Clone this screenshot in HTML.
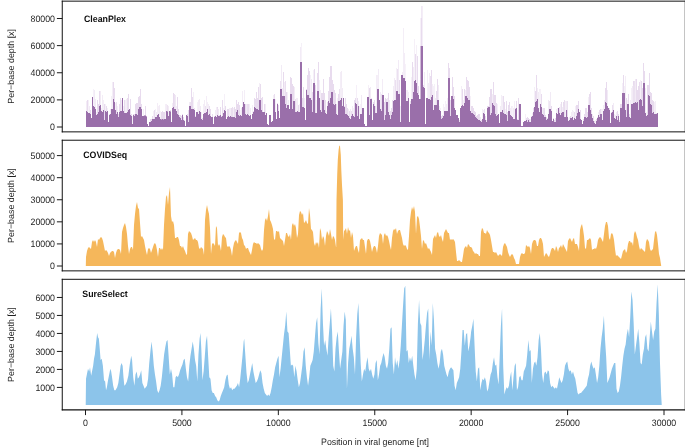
<!DOCTYPE html>
<html><head><meta charset="utf-8"><style>
html,body{margin:0;padding:0;background:#fff;}
svg{display:block;font-family:"Liberation Sans", sans-serif;will-change:transform;text-rendering:geometricPrecision;}
</style></head><body>
<svg width="685" height="447" viewBox="0 0 685 447">
<text x="0" y="0" transform="translate(14.2,66.35) rotate(-90)" text-anchor="middle" font-size="8.9" fill="#1e1e1e">Per−base depth [x]</text>
<line x1="56.9" y1="127.00" x2="62.3" y2="127.00" stroke="#1a1a1a" stroke-width="1"/>
<text transform="translate(55,130.20) scale(0.945,1)" text-anchor="end" font-size="9.3" fill="#1e1e1e">0</text>
<line x1="56.9" y1="99.88" x2="62.3" y2="99.88" stroke="#1a1a1a" stroke-width="1"/>
<text transform="translate(55,103.08) scale(0.945,1)" text-anchor="end" font-size="9.3" fill="#1e1e1e">20000</text>
<line x1="56.9" y1="72.75" x2="62.3" y2="72.75" stroke="#1a1a1a" stroke-width="1"/>
<text transform="translate(55,75.95) scale(0.945,1)" text-anchor="end" font-size="9.3" fill="#1e1e1e">40000</text>
<line x1="56.9" y1="45.62" x2="62.3" y2="45.62" stroke="#1a1a1a" stroke-width="1"/>
<text transform="translate(55,48.83) scale(0.945,1)" text-anchor="end" font-size="9.3" fill="#1e1e1e">60000</text>
<line x1="56.9" y1="18.50" x2="62.3" y2="18.50" stroke="#1a1a1a" stroke-width="1"/>
<text transform="translate(55,21.70) scale(0.945,1)" text-anchor="end" font-size="9.3" fill="#1e1e1e">80000</text>
<text transform="translate(84,21.7) scale(0.945,1)" font-size="9.3" font-weight="bold" fill="#111">CleanPlex</text>
<text x="0" y="0" transform="translate(14.2,205.55) rotate(-90)" text-anchor="middle" font-size="8.9" fill="#1e1e1e">Per−base depth [x]</text>
<line x1="56.9" y1="266.00" x2="62.3" y2="266.00" stroke="#1a1a1a" stroke-width="1"/>
<text transform="translate(55,269.20) scale(0.945,1)" text-anchor="end" font-size="9.3" fill="#1e1e1e">0</text>
<line x1="56.9" y1="243.92" x2="62.3" y2="243.92" stroke="#1a1a1a" stroke-width="1"/>
<text transform="translate(55,247.12) scale(0.945,1)" text-anchor="end" font-size="9.3" fill="#1e1e1e">10000</text>
<line x1="56.9" y1="221.84" x2="62.3" y2="221.84" stroke="#1a1a1a" stroke-width="1"/>
<text transform="translate(55,225.04) scale(0.945,1)" text-anchor="end" font-size="9.3" fill="#1e1e1e">20000</text>
<line x1="56.9" y1="199.76" x2="62.3" y2="199.76" stroke="#1a1a1a" stroke-width="1"/>
<text transform="translate(55,202.96) scale(0.945,1)" text-anchor="end" font-size="9.3" fill="#1e1e1e">30000</text>
<line x1="56.9" y1="177.68" x2="62.3" y2="177.68" stroke="#1a1a1a" stroke-width="1"/>
<text transform="translate(55,180.88) scale(0.945,1)" text-anchor="end" font-size="9.3" fill="#1e1e1e">40000</text>
<line x1="56.9" y1="155.60" x2="62.3" y2="155.60" stroke="#1a1a1a" stroke-width="1"/>
<text transform="translate(55,158.80) scale(0.945,1)" text-anchor="end" font-size="9.3" fill="#1e1e1e">50000</text>
<text transform="translate(83.2,157.9) scale(0.945,1)" font-size="9.3" font-weight="bold" fill="#111">COVIDSeq</text>
<text x="0" y="0" transform="translate(14.2,344.55) rotate(-90)" text-anchor="middle" font-size="8.9" fill="#1e1e1e">Per−base depth [x]</text>
<line x1="56.9" y1="387.41" x2="62.3" y2="387.41" stroke="#1a1a1a" stroke-width="1"/>
<text transform="translate(55,390.61) scale(0.945,1)" text-anchor="end" font-size="9.3" fill="#1e1e1e">1000</text>
<line x1="56.9" y1="369.42" x2="62.3" y2="369.42" stroke="#1a1a1a" stroke-width="1"/>
<text transform="translate(55,372.62) scale(0.945,1)" text-anchor="end" font-size="9.3" fill="#1e1e1e">2000</text>
<line x1="56.9" y1="351.43" x2="62.3" y2="351.43" stroke="#1a1a1a" stroke-width="1"/>
<text transform="translate(55,354.63) scale(0.945,1)" text-anchor="end" font-size="9.3" fill="#1e1e1e">3000</text>
<line x1="56.9" y1="333.44" x2="62.3" y2="333.44" stroke="#1a1a1a" stroke-width="1"/>
<text transform="translate(55,336.64) scale(0.945,1)" text-anchor="end" font-size="9.3" fill="#1e1e1e">4000</text>
<line x1="56.9" y1="315.45" x2="62.3" y2="315.45" stroke="#1a1a1a" stroke-width="1"/>
<text transform="translate(55,318.65) scale(0.945,1)" text-anchor="end" font-size="9.3" fill="#1e1e1e">5000</text>
<line x1="56.9" y1="297.46" x2="62.3" y2="297.46" stroke="#1a1a1a" stroke-width="1"/>
<text transform="translate(55,300.66) scale(0.945,1)" text-anchor="end" font-size="9.3" fill="#1e1e1e">6000</text>
<text transform="translate(82.3,296.9) scale(0.945,1)" font-size="9.3" font-weight="bold" fill="#111">SureSelect</text>
<path d="M86.00,127.00L86.00,101.00L87.00,101.00L87.00,100.00L88.00,100.00L88.00,100.00L89.00,100.00L89.00,106.00L90.00,106.00L90.00,110.00L91.00,110.00L91.00,118.00L92.00,118.00L92.00,97.00L93.00,97.00L93.00,89.00L94.00,89.00L94.00,90.00L95.00,90.00L95.00,99.00L96.00,99.00L96.00,112.00L97.00,112.00L97.00,100.00L98.00,100.00L98.00,104.00L99.00,104.00L99.00,91.00L100.00,91.00L100.00,91.00L101.00,91.00L101.00,108.00L102.00,108.00L102.00,95.00L103.00,95.00L103.00,100.00L104.00,100.00L104.00,104.00L105.00,104.00L105.00,104.00L106.00,104.00L106.00,106.00L107.00,106.00L107.00,108.00L108.00,108.00L108.00,122.00L109.00,122.00L109.00,114.00L110.00,114.00L110.00,109.00L111.00,109.00L111.00,96.00L112.00,96.00L112.00,82.00L113.00,82.00L113.00,82.00L114.00,82.00L114.00,88.00L115.00,88.00L115.00,103.00L116.00,103.00L116.00,102.00L117.00,102.00L117.00,106.00L118.00,106.00L118.00,114.00L119.00,114.00L119.00,104.00L120.00,104.00L120.00,98.00L121.00,98.00L121.00,100.00L122.00,100.00L122.00,98.00L123.00,98.00L123.00,106.00L124.00,106.00L124.00,100.00L125.00,100.00L125.00,100.00L126.00,100.00L126.00,99.00L127.00,99.00L127.00,98.00L128.00,98.00L128.00,94.00L129.00,94.00L129.00,109.00L130.00,109.00L130.00,99.00L131.00,99.00L131.00,114.00L132.00,114.00L132.00,116.00L133.00,116.00L133.00,114.00L134.00,114.00L134.00,114.00L135.00,114.00L135.00,104.00L136.00,104.00L136.00,103.00L137.00,103.00L137.00,103.00L138.00,103.00L138.00,97.00L139.00,97.00L139.00,96.00L140.00,96.00L140.00,89.00L141.00,89.00L141.00,104.00L142.00,104.00L142.00,116.00L143.00,116.00L143.00,109.00L144.00,109.00L144.00,115.60L145.00,115.60L145.00,106.00L146.00,106.00L146.00,116.00L147.00,116.00L147.00,124.00L148.00,124.00L148.00,126.00L149.00,126.00L149.00,122.00L150.00,122.00L150.00,119.00L151.00,119.00L151.00,119.00L152.00,119.00L152.00,116.00L153.00,116.00L153.00,111.00L154.00,111.00L154.00,110.00L155.00,110.00L155.00,109.00L156.00,109.00L156.00,112.00L157.00,112.00L157.00,103.00L158.00,103.00L158.00,106.00L159.00,106.00L159.00,105.00L160.00,105.00L160.00,111.00L161.00,111.00L161.00,112.00L162.00,112.00L162.00,111.00L163.00,111.00L163.00,112.00L164.00,112.00L164.00,112.00L165.00,112.00L165.00,104.00L166.00,104.00L166.00,104.00L167.00,104.00L167.00,105.00L168.00,105.00L168.00,106.00L169.00,106.00L169.00,111.00L170.00,111.00L170.00,110.00L171.00,110.00L171.00,122.00L172.00,122.00L172.00,103.00L173.00,103.00L173.00,93.00L174.00,93.00L174.00,94.00L175.00,94.00L175.00,95.00L176.00,95.00L176.00,106.00L177.00,106.00L177.00,97.00L178.00,97.00L178.00,109.00L179.00,109.00L179.00,115.00L180.00,115.00L180.00,115.00L181.00,115.00L181.00,116.00L182.00,116.00L182.00,114.00L183.00,114.00L183.00,117.00L184.00,117.00L184.00,120.00L185.00,120.00L185.00,126.00L186.00,126.00L186.00,115.00L187.00,115.00L187.00,114.00L188.00,114.00L188.00,110.00L189.00,110.00L189.00,102.00L190.00,102.00L190.00,102.00L191.00,102.00L191.00,88.00L192.00,88.00L192.00,97.00L193.00,97.00L193.00,92.00L194.00,92.00L194.00,108.00L195.00,108.00L195.00,116.00L196.00,116.00L196.00,112.00L197.00,112.00L197.00,102.00L198.00,102.00L198.00,100.00L199.00,100.00L199.00,99.00L200.00,99.00L200.00,106.00L201.00,106.00L201.00,112.00L202.00,112.00L202.00,118.00L203.00,118.00L203.00,104.00L204.00,104.00L204.00,100.00L205.00,100.00L205.00,106.00L206.00,106.00L206.00,96.00L207.00,96.00L207.00,102.00L208.00,102.00L208.00,104.00L209.00,104.00L209.00,106.00L210.00,106.00L210.00,109.00L211.00,109.00L211.00,117.00L212.00,117.00L212.00,114.00L213.00,114.00L213.00,124.00L214.00,124.00L214.00,116.00L215.00,116.00L215.00,110.00L216.00,110.00L216.00,107.00L217.00,107.00L217.00,107.00L218.00,107.00L218.00,109.00L219.00,109.00L219.00,115.00L220.00,115.00L220.00,107.00L221.00,107.00L221.00,116.00L222.00,116.00L222.00,100.00L223.00,100.00L223.00,108.00L224.00,108.00L224.00,94.00L225.00,94.00L225.00,106.00L226.00,106.00L226.00,119.00L227.00,119.00L227.00,109.00L228.00,109.00L228.00,109.00L229.00,109.00L229.00,108.00L230.00,108.00L230.00,108.00L231.00,108.00L231.00,108.00L232.00,108.00L232.00,107.00L233.00,107.00L233.00,108.00L234.00,108.00L234.00,107.00L235.00,107.00L235.00,109.00L236.00,109.00L236.00,100.00L237.00,100.00L237.00,104.00L238.00,104.00L238.00,102.00L239.00,102.00L239.00,105.00L240.00,105.00L240.00,110.00L241.00,110.00L241.00,108.00L242.00,108.00L242.00,91.00L243.00,91.00L243.00,102.00L244.00,102.00L244.00,90.00L245.00,90.00L245.00,104.00L246.00,104.00L246.00,104.00L247.00,104.00L247.00,104.00L248.00,104.00L248.00,104.00L249.00,104.00L249.00,104.00L250.00,104.00L250.00,108.00L251.00,108.00L251.00,119.00L252.00,119.00L252.00,105.00L253.00,105.00L253.00,111.00L254.00,111.00L254.00,98.00L255.00,98.00L255.00,99.00L256.00,99.00L256.00,92.00L257.00,92.00L257.00,98.00L258.00,98.00L258.00,87.00L259.00,87.00L259.00,83.00L260.00,83.00L260.00,84.00L261.00,84.00L261.00,98.00L262.00,98.00L262.00,97.00L263.00,97.00L263.00,112.00L264.00,112.00L264.00,104.00L265.00,104.00L265.00,104.00L266.00,104.00L266.00,113.00L267.00,113.00L267.00,124.00L268.00,124.00L268.00,125.00L269.00,125.00L269.00,115.00L270.00,115.00L270.00,115.00L271.00,115.00L271.00,122.00L272.00,122.00L272.00,121.00L273.00,121.00L273.00,95.00L274.00,95.00L274.00,94.00L275.00,94.00L275.00,99.00L276.00,99.00L276.00,119.00L277.00,119.00L277.00,103.00L278.00,103.00L278.00,105.00L279.00,105.00L279.00,118.00L280.00,118.00L280.00,81.00L281.00,81.00L281.00,65.00L282.00,65.00L282.00,88.00L283.00,88.00L283.00,72.00L284.00,72.00L284.00,82.00L285.00,82.00L285.00,81.00L286.00,81.00L286.00,92.00L287.00,92.00L287.00,92.00L288.00,92.00L288.00,100.00L289.00,100.00L289.00,109.00L290.00,109.00L290.00,77.00L291.00,77.00L291.00,78.00L292.00,78.00L292.00,84.00L293.00,84.00L293.00,86.00L294.00,86.00L294.00,87.00L295.00,87.00L295.00,99.00L296.00,99.00L296.00,98.00L297.00,98.00L297.00,98.00L298.00,98.00L298.00,105.00L299.00,105.00L299.00,104.00L300.00,104.00L300.00,47.00L301.00,47.00L301.00,43.00L302.00,43.00L302.00,98.00L303.00,98.00L303.00,87.00L304.00,87.00L304.00,98.00L305.00,98.00L305.00,120.00L306.00,120.00L306.00,89.00L307.00,89.00L307.00,75.00L308.00,75.00L308.00,68.00L309.00,68.00L309.00,71.00L310.00,71.00L310.00,75.00L311.00,75.00L311.00,79.00L312.00,79.00L312.00,92.00L313.00,92.00L313.00,70.00L314.00,70.00L314.00,69.00L315.00,69.00L315.00,85.00L316.00,85.00L316.00,100.00L317.00,100.00L317.00,73.00L318.00,73.00L318.00,62.00L319.00,62.00L319.00,80.00L320.00,80.00L320.00,90.00L321.00,90.00L321.00,93.00L322.00,93.00L322.00,93.00L323.00,93.00L323.00,79.00L324.00,79.00L324.00,93.00L325.00,93.00L325.00,100.00L326.00,100.00L326.00,111.00L327.00,111.00L327.00,102.00L328.00,102.00L328.00,91.00L329.00,91.00L329.00,77.00L330.00,77.00L330.00,66.00L331.00,66.00L331.00,66.00L332.00,66.00L332.00,80.00L333.00,80.00L333.00,84.00L334.00,84.00L334.00,90.00L335.00,90.00L335.00,93.00L336.00,93.00L336.00,104.00L337.00,104.00L337.00,98.00L338.00,98.00L338.00,94.00L339.00,94.00L339.00,89.00L340.00,89.00L340.00,72.00L341.00,72.00L341.00,71.00L342.00,71.00L342.00,88.00L343.00,88.00L343.00,98.00L344.00,98.00L344.00,106.00L345.00,106.00L345.00,98.00L346.00,98.00L346.00,104.00L347.00,104.00L347.00,108.00L348.00,108.00L348.00,109.00L349.00,109.00L349.00,111.00L350.00,111.00L350.00,109.00L351.00,109.00L351.00,111.00L352.00,111.00L352.00,106.00L353.00,106.00L353.00,108.00L354.00,108.00L354.00,100.00L355.00,100.00L355.00,98.00L356.00,98.00L356.00,85.00L357.00,85.00L357.00,98.00L358.00,98.00L358.00,101.00L359.00,101.00L359.00,106.00L360.00,106.00L360.00,104.00L361.00,104.00L361.00,95.00L362.00,95.00L362.00,108.00L363.00,108.00L363.00,108.00L364.00,108.00L364.00,124.00L365.00,124.00L365.00,126.00L366.00,126.00L366.00,126.00L367.00,126.00L367.00,97.00L368.00,97.00L368.00,85.00L369.00,85.00L369.00,88.00L370.00,88.00L370.00,87.00L371.00,87.00L371.00,98.00L372.00,98.00L372.00,120.00L373.00,120.00L373.00,102.00L374.00,102.00L374.00,100.00L375.00,100.00L375.00,106.00L376.00,106.00L376.00,75.00L377.00,75.00L377.00,75.00L378.00,75.00L378.00,69.00L379.00,69.00L379.00,100.00L380.00,100.00L380.00,92.00L381.00,92.00L381.00,94.00L382.00,94.00L382.00,79.00L383.00,79.00L383.00,95.00L384.00,95.00L384.00,102.00L385.00,102.00L385.00,98.00L386.00,98.00L386.00,99.00L387.00,99.00L387.00,98.00L388.00,98.00L388.00,93.00L389.00,93.00L389.00,100.00L390.00,100.00L390.00,111.00L391.00,111.00L391.00,108.00L392.00,108.00L392.00,100.00L393.00,100.00L393.00,86.00L394.00,86.00L394.00,78.00L395.00,78.00L395.00,80.00L396.00,80.00L396.00,68.00L397.00,68.00L397.00,69.00L398.00,69.00L398.00,60.00L399.00,60.00L399.00,80.00L400.00,80.00L400.00,106.00L401.00,106.00L401.00,75.00L402.00,75.00L402.00,72.00L403.00,72.00L403.00,28.00L404.00,28.00L404.00,53.00L405.00,53.00L405.00,64.00L406.00,64.00L406.00,90.00L407.00,90.00L407.00,90.00L408.00,90.00L408.00,92.00L409.00,92.00L409.00,122.00L410.00,122.00L410.00,101.00L411.00,101.00L411.00,77.00L412.00,77.00L412.00,62.00L413.00,62.00L413.00,67.00L414.00,67.00L414.00,39.00L415.00,39.00L415.00,54.00L416.00,54.00L416.00,45.00L417.00,45.00L417.00,56.00L418.00,56.00L418.00,86.00L419.00,86.00L419.00,99.00L420.00,99.00L420.00,80.00L420.60,80.00L420.60,18.00L421.40,18.00L421.40,6.00L422.20,6.00L422.20,6.00L423.00,6.00L423.00,85.00L424.00,85.00L424.00,72.00L425.00,72.00L425.00,124.00L426.00,124.00L426.00,98.00L427.00,98.00L427.00,70.00L428.00,70.00L428.00,83.00L429.00,83.00L429.00,73.00L430.00,73.00L430.00,76.00L431.00,76.00L431.00,70.00L432.00,70.00L432.00,84.00L433.00,84.00L433.00,86.00L434.00,86.00L434.00,84.00L435.00,84.00L435.00,98.00L436.00,98.00L436.00,91.00L437.00,91.00L437.00,79.00L438.00,79.00L438.00,85.00L439.00,85.00L439.00,106.00L440.00,106.00L440.00,108.00L441.00,108.00L441.00,116.00L442.00,116.00L442.00,115.00L443.00,115.00L443.00,104.00L444.00,104.00L444.00,107.00L445.00,107.00L445.00,101.00L446.00,101.00L446.00,104.00L447.00,104.00L447.00,98.00L448.00,98.00L448.00,63.00L449.00,63.00L449.00,68.00L450.00,68.00L450.00,100.00L451.00,100.00L451.00,96.00L452.00,96.00L452.00,77.00L453.00,77.00L453.00,87.00L454.00,87.00L454.00,96.00L455.00,96.00L455.00,110.00L456.00,110.00L456.00,115.00L457.00,115.00L457.00,115.00L458.00,115.00L458.00,118.00L459.00,118.00L459.00,120.00L460.00,120.00L460.00,108.00L461.00,108.00L461.00,86.00L462.00,86.00L462.00,89.00L463.00,89.00L463.00,100.00L464.00,100.00L464.00,89.00L465.00,89.00L465.00,90.00L466.00,90.00L466.00,77.00L467.00,77.00L467.00,80.00L468.00,80.00L468.00,81.00L469.00,81.00L469.00,87.00L470.00,87.00L470.00,96.00L471.00,96.00L471.00,106.00L472.00,106.00L472.00,106.00L473.00,106.00L473.00,108.00L474.00,108.00L474.00,111.00L475.00,111.00L475.00,112.00L476.00,112.00L476.00,116.00L477.00,116.00L477.00,115.00L478.00,115.00L478.00,114.00L479.00,114.00L479.00,114.00L480.00,114.00L480.00,117.00L481.00,117.00L481.00,120.00L482.00,120.00L482.00,109.00L483.00,109.00L483.00,110.00L484.00,110.00L484.00,109.00L485.00,109.00L485.00,116.00L486.00,116.00L486.00,120.00L487.00,120.00L487.00,106.00L488.00,106.00L488.00,106.00L489.00,106.00L489.00,97.00L490.00,97.00L490.00,89.00L491.00,89.00L491.00,89.00L492.00,89.00L492.00,94.00L493.00,94.00L493.00,82.00L494.00,82.00L494.00,95.00L495.00,95.00L495.00,95.00L496.00,95.00L496.00,103.00L497.00,103.00L497.00,104.00L498.00,104.00L498.00,114.00L499.00,114.00L499.00,123.00L500.00,123.00L500.00,106.00L501.00,106.00L501.00,95.00L502.00,95.00L502.00,96.00L503.00,96.00L503.00,96.00L504.00,96.00L504.00,102.00L505.00,102.00L505.00,109.00L506.00,109.00L506.00,101.00L507.00,101.00L507.00,112.00L508.00,112.00L508.00,105.00L509.00,105.00L509.00,102.00L510.00,102.00L510.00,108.00L511.00,108.00L511.00,106.00L512.00,106.00L512.00,106.00L513.00,106.00L513.00,108.00L514.00,108.00L514.00,101.00L515.00,101.00L515.00,108.00L516.00,108.00L516.00,101.00L517.00,101.00L517.00,119.00L518.00,119.00L518.00,98.00L519.00,98.00L519.00,104.00L520.00,104.00L520.00,104.00L521.00,104.00L521.00,126.00L522.00,126.00L522.00,126.00L523.00,126.00L523.00,122.00L524.00,122.00L524.00,121.00L525.00,121.00L525.00,114.00L526.00,114.00L526.00,118.00L527.00,118.00L527.00,117.00L528.00,117.00L528.00,118.00L529.00,118.00L529.00,119.00L530.00,119.00L530.00,119.00L531.00,119.00L531.00,116.00L532.00,116.00L532.00,113.00L533.00,113.00L533.00,108.00L534.00,108.00L534.00,87.00L535.00,87.00L535.00,91.00L536.00,91.00L536.00,75.00L537.00,75.00L537.00,88.00L538.00,88.00L538.00,92.00L539.00,92.00L539.00,89.00L540.00,89.00L540.00,89.00L541.00,89.00L541.00,94.00L542.00,94.00L542.00,108.00L543.00,108.00L543.00,108.00L544.00,108.00L544.00,108.00L545.00,108.00L545.00,115.00L546.00,115.00L546.00,117.00L547.00,117.00L547.00,118.00L548.00,118.00L548.00,100.00L549.00,100.00L549.00,101.00L550.00,101.00L550.00,92.00L551.00,92.00L551.00,106.00L552.00,106.00L552.00,121.00L553.00,121.00L553.00,118.00L554.00,118.00L554.00,120.00L555.00,120.00L555.00,118.00L556.00,118.00L556.00,109.00L557.00,109.00L557.00,108.00L558.00,108.00L558.00,108.00L559.00,108.00L559.00,107.00L560.00,107.00L560.00,104.00L561.00,104.00L561.00,102.00L562.00,102.00L562.00,107.00L563.00,107.00L563.00,102.00L564.00,102.00L564.00,100.00L565.00,100.00L565.00,101.00L566.00,101.00L566.00,101.00L567.00,101.00L567.00,101.00L568.00,101.00L568.00,118.00L569.00,118.00L569.00,117.00L570.00,117.00L570.00,116.00L571.00,116.00L571.00,112.00L572.00,112.00L572.00,110.00L573.00,110.00L573.00,111.00L574.00,111.00L574.00,112.00L575.00,112.00L575.00,106.00L576.00,106.00L576.00,105.00L577.00,105.00L577.00,105.00L578.00,105.00L578.00,101.00L579.00,101.00L579.00,112.00L580.00,112.00L580.00,110.00L581.00,110.00L581.00,120.00L582.00,120.00L582.00,124.00L583.00,124.00L583.00,119.00L584.00,119.00L584.00,114.00L585.00,114.00L585.00,108.00L586.00,108.00L586.00,108.00L587.00,108.00L587.00,112.00L588.00,112.00L588.00,97.00L589.00,97.00L589.00,94.00L590.00,94.00L590.00,92.00L591.00,92.00L591.00,108.00L592.00,108.00L592.00,114.00L593.00,114.00L593.00,116.00L594.00,116.00L594.00,121.00L595.00,121.00L595.00,120.00L596.00,120.00L596.00,119.00L597.00,119.00L597.00,117.00L598.00,117.00L598.00,112.00L599.00,112.00L599.00,110.00L600.00,110.00L600.00,109.00L601.00,109.00L601.00,109.00L602.00,109.00L602.00,109.00L603.00,109.00L603.00,105.00L604.00,105.00L604.00,100.00L605.00,100.00L605.00,88.00L606.00,88.00L606.00,82.00L607.00,82.00L607.00,90.00L608.00,90.00L608.00,108.00L609.00,108.00L609.00,108.00L610.00,108.00L610.00,123.00L611.00,123.00L611.00,112.00L612.00,112.00L612.00,105.00L613.00,105.00L613.00,103.00L614.00,103.00L614.00,114.00L615.00,114.00L615.00,115.00L616.00,115.00L616.00,112.00L617.00,112.00L617.00,111.00L618.00,111.00L618.00,114.00L619.00,114.00L619.00,120.00L620.00,120.00L620.00,104.00L621.00,104.00L621.00,104.00L622.00,104.00L622.00,83.00L623.00,83.00L623.00,75.00L624.00,75.00L624.00,86.00L625.00,86.00L625.00,76.00L626.00,76.00L626.00,98.00L627.00,98.00L627.00,100.00L628.00,100.00L628.00,94.00L629.00,94.00L629.00,114.00L630.00,114.00L630.00,100.00L631.00,100.00L631.00,88.00L632.00,88.00L632.00,86.00L633.00,86.00L633.00,81.00L634.00,81.00L634.00,81.00L635.00,81.00L635.00,79.00L636.00,79.00L636.00,79.00L637.00,79.00L637.00,90.00L638.00,90.00L638.00,86.00L639.00,86.00L639.00,82.00L640.00,82.00L640.00,80.00L641.00,80.00L641.00,81.00L642.00,81.00L642.00,88.00L643.00,88.00L643.00,63.00L644.00,63.00L644.00,71.00L645.00,71.00L645.00,88.00L646.00,88.00L646.00,112.00L647.00,112.00L647.00,85.00L648.00,85.00L648.00,85.00L649.00,85.00L649.00,73.00L650.00,73.00L650.00,92.00L651.00,92.00L651.00,93.00L652.00,93.00L652.00,100.00L653.00,100.00L653.00,101.00L654.00,101.00L654.00,102.00L655.00,102.00L655.00,101.00L656.00,101.00L656.00,113.00L657.00,113.00L657.00,113.00L657.80,113.00L657.80,113.00L658.00,113.00L658.00,127.00Z" fill="#e8dbee"/>
<path d="M86.29,100.00V111.00M88.52,99.00V113.00M89.23,105.00V113.00M93.46,88.00V106.00M94.25,89.00V107.00M95.70,98.00V109.00M96.33,111.00V115.00M100.79,90.00V105.00M101.72,107.00V111.00M102.29,94.00V112.00M103.39,99.00V110.00M105.55,103.00V111.00M107.53,107.00V111.00M110.24,108.00V114.00M111.61,95.00V109.00M112.39,81.00V109.00M115.68,102.00V110.00M117.54,105.00V112.00M121.79,99.00V111.00M123.45,105.00V111.00M125.49,99.00V113.00M126.60,98.00V113.00M132.62,115.00V124.00M143.62,108.00V116.00M153.43,110.00V119.00M155.48,108.00V117.00M156.27,111.00V117.00M157.66,102.00V115.00M158.35,105.00V114.00M159.72,104.00V117.00M160.47,110.00V119.00M165.45,103.00V119.00M166.73,103.00V111.00M168.31,105.00V116.00M172.34,102.00V108.00M175.20,94.00V109.00M176.42,105.00V111.00M189.74,101.00V106.00M193.44,91.00V109.00M197.58,101.00V112.00M198.24,99.00V114.00M199.30,98.00V111.00M200.23,105.00V112.00M201.29,111.00V119.00M203.42,103.00V114.00M204.72,99.00V113.00M206.35,95.00V112.00M207.42,101.00V109.00M208.71,103.00V115.00M215.26,109.00V116.00M216.36,106.00V117.00M218.21,108.00V116.00M223.53,107.00V113.00M224.52,93.00V110.00M229.42,107.00V117.00M230.66,107.00V116.00M233.33,107.00V117.00M240.51,109.00V115.00M241.22,107.00V116.00M242.37,90.00V107.00M244.62,89.00V104.00M246.76,103.00V115.00M249.33,103.00V116.00M250.32,107.00V115.00M252.57,104.00V114.00M259.60,82.00V100.00M265.67,103.00V115.00M273.68,94.00V99.00M275.44,98.00V112.00M281.28,64.00V89.00M282.74,87.00V96.00M284.70,81.00V96.00M287.53,91.00V105.00M288.21,99.00V105.00M294.72,86.00V101.00M296.35,97.00V112.00M297.34,97.00V111.00M299.45,103.00V112.00M300.75,46.00V62.00M301.47,42.00V62.00M304.75,97.00V108.00M310.46,74.00V98.00M311.20,78.00V100.00M313.48,69.00V83.00M316.51,99.00V113.00M319.54,79.00V98.00M320.37,89.00V110.00M326.57,110.00V114.00M337.54,97.00V115.00M340.27,71.00V100.00M341.24,70.00V98.00M342.24,87.00V106.00M348.63,108.00V116.00M350.73,108.00V119.00M352.77,105.00V114.00M353.49,107.00V116.00M356.46,84.00V104.00M358.32,100.00V106.00M359.63,105.00V119.00M360.53,103.00V114.00M361.21,94.00V114.00M368.57,84.00V97.00M370.79,86.00V99.00M376.36,74.00V113.00M377.67,74.00V89.00M378.28,68.00V89.00M380.75,91.00V109.00M382.29,78.00V95.00M387.23,97.00V102.00M389.24,99.00V115.00M393.71,85.00V101.00M394.72,77.00V100.00M396.53,67.00V91.00M398.28,59.00V94.00M400.27,105.00V122.00M402.23,71.00V75.00M403.39,27.00V78.00M404.66,52.00V78.00M405.50,63.00V81.00M406.41,89.00V101.00M407.35,89.00V101.00M408.64,91.00V98.00M411.48,76.00V99.00M413.69,66.00V92.00M414.50,38.00V81.00M416.50,44.00V83.00M420.70,79.00V99.00M422.61,5.00V46.00M424.28,71.00V88.00M427.64,69.00V98.00M428.30,82.00V99.00M429.70,72.00V99.00M432.35,83.00V95.00M433.48,85.00V110.00M434.47,83.00V105.00M435.78,97.00V105.00M438.78,84.00V100.00M439.41,105.00V110.00M440.43,107.00V111.00M443.50,103.00V116.00M444.36,106.00V111.00M445.44,100.00V111.00M446.21,103.00V111.00M447.34,97.00V111.00M461.40,85.00V106.00M463.63,99.00V106.00M465.70,89.00V96.00M470.51,95.00V111.00M480.22,116.00V121.00M482.42,108.00V119.00M483.70,109.00V113.00M492.68,93.00V103.00M497.64,103.00V115.00M500.24,105.00V112.00M501.64,94.00V112.00M502.64,95.00V110.00M505.49,108.00V114.00M510.29,107.00V115.00M511.65,105.00V116.00M512.54,105.00V117.00M513.24,107.00V119.00M514.60,100.00V119.00M525.51,113.00V121.00M530.74,118.00V122.00M532.79,112.00V116.00M534.48,86.00V107.00M537.36,87.00V99.00M538.77,91.00V108.00M539.55,88.00V112.00M540.51,88.00V104.00M542.69,107.00V114.00M548.74,99.00V114.00M550.20,91.00V109.00M556.28,108.00V113.00M557.39,107.00V114.00M560.65,103.00V115.00M562.76,106.00V112.00M565.42,100.00V117.00M566.80,100.00V110.00M568.46,117.00V121.00M569.23,116.00V120.00M571.70,111.00V118.00M572.76,109.00V117.00M573.36,110.00V120.00M575.42,105.00V119.00M588.64,96.00V105.00M592.23,113.00V118.00M595.48,119.00V124.00M598.38,111.00V115.00M601.59,108.00V114.00M602.53,108.00V120.00M603.30,104.00V111.00M604.32,99.00V109.00M607.74,89.00V106.00M613.28,102.00V110.00M614.25,113.00V118.00M615.25,114.00V119.00M616.36,111.00V116.00M622.45,82.00V93.00M624.40,85.00V93.00M625.37,75.00V110.00M627.50,99.00V104.00M630.36,99.00V118.00M631.44,87.00V104.00M632.77,85.00V104.00M635.22,78.00V102.00M640.43,79.00V99.00M645.27,87.00V113.00M646.51,111.00V116.00M654.67,101.00V114.00M655.75,100.00V114.00" stroke="#fff" stroke-width="0.6" fill="none"/>
<path d="M86.00,127.00L86.00,111.00L87.00,111.00L87.00,112.00L88.00,112.00L88.00,113.00L89.00,113.00L89.00,113.00L90.00,113.00L90.00,114.00L91.00,114.00L91.00,118.00L92.00,118.00L92.00,97.00L93.00,97.00L93.00,106.00L94.00,106.00L94.00,107.00L95.00,107.00L95.00,109.00L96.00,109.00L96.00,115.00L97.00,115.00L97.00,114.00L98.00,114.00L98.00,112.00L99.00,112.00L99.00,106.00L100.00,106.00L100.00,105.00L101.00,105.00L101.00,111.00L102.00,111.00L102.00,112.00L103.00,112.00L103.00,110.00L104.00,110.00L104.00,120.00L105.00,120.00L105.00,111.00L106.00,111.00L106.00,112.00L107.00,112.00L107.00,111.00L108.00,111.00L108.00,122.00L109.00,122.00L109.00,115.00L110.00,115.00L110.00,114.00L111.00,114.00L111.00,109.00L112.00,109.00L112.00,109.00L113.00,109.00L113.00,99.00L114.00,99.00L114.00,102.00L115.00,102.00L115.00,110.00L116.00,110.00L116.00,114.00L117.00,114.00L117.00,112.00L118.00,112.00L118.00,117.00L119.00,117.00L119.00,112.00L120.00,112.00L120.00,111.00L121.00,111.00L121.00,111.00L122.00,111.00L122.00,98.00L123.00,98.00L123.00,111.00L124.00,111.00L124.00,113.00L125.00,113.00L125.00,113.00L126.00,113.00L126.00,113.00L127.00,113.00L127.00,112.00L128.00,112.00L128.00,110.00L129.00,110.00L129.00,109.00L130.00,109.00L130.00,115.00L131.00,115.00L131.00,116.00L132.00,116.00L132.00,124.00L133.00,124.00L133.00,115.00L134.00,115.00L134.00,116.00L135.00,116.00L135.00,114.00L136.00,114.00L136.00,114.00L137.00,114.00L137.00,115.00L138.00,115.00L138.00,109.00L139.00,109.00L139.00,107.00L140.00,107.00L140.00,107.00L141.00,107.00L141.00,109.00L142.00,109.00L142.00,116.00L143.00,116.00L143.00,116.00L144.00,116.00L144.00,115.60L145.00,115.60L145.00,115.60L146.00,115.60L146.00,116.40L147.00,116.40L147.00,124.00L148.00,124.00L148.00,126.00L149.00,126.00L149.00,122.00L150.00,122.00L150.00,122.00L151.00,122.00L151.00,121.00L152.00,121.00L152.00,119.00L153.00,119.00L153.00,119.00L154.00,119.00L154.00,119.00L155.00,119.00L155.00,117.00L156.00,117.00L156.00,117.00L157.00,117.00L157.00,115.00L158.00,115.00L158.00,114.00L159.00,114.00L159.00,117.00L160.00,117.00L160.00,119.00L161.00,119.00L161.00,119.60L162.00,119.60L162.00,119.00L163.00,119.00L163.00,119.60L164.00,119.60L164.00,119.00L165.00,119.00L165.00,119.00L166.00,119.00L166.00,111.00L167.00,111.00L167.00,111.40L168.00,111.40L168.00,116.00L169.00,116.00L169.00,111.00L170.00,111.00L170.00,111.40L171.00,111.40L171.00,122.00L172.00,122.00L172.00,108.00L173.00,108.00L173.00,107.00L174.00,107.00L174.00,109.00L175.00,109.00L175.00,109.00L176.00,109.00L176.00,111.00L177.00,111.00L177.00,114.00L178.00,114.00L178.00,115.00L179.00,115.00L179.00,117.00L180.00,117.00L180.00,118.00L181.00,118.00L181.00,120.00L182.00,120.00L182.00,115.00L183.00,115.00L183.00,120.00L184.00,120.00L184.00,121.00L185.00,121.00L185.00,126.00L186.00,126.00L186.00,115.00L187.00,115.00L187.00,116.00L188.00,116.00L188.00,122.00L189.00,122.00L189.00,106.00L190.00,106.00L190.00,106.00L191.00,106.00L191.00,109.00L192.00,109.00L192.00,109.00L193.00,109.00L193.00,109.00L194.00,109.00L194.00,110.00L195.00,110.00L195.00,117.00L196.00,117.00L196.00,112.00L197.00,112.00L197.00,112.00L198.00,112.00L198.00,114.00L199.00,114.00L199.00,111.00L200.00,111.00L200.00,112.00L201.00,112.00L201.00,119.00L202.00,119.00L202.00,120.00L203.00,120.00L203.00,114.00L204.00,114.00L204.00,113.00L205.00,113.00L205.00,113.00L206.00,113.00L206.00,112.00L207.00,112.00L207.00,109.00L208.00,109.00L208.00,115.00L209.00,115.00L209.00,114.00L210.00,114.00L210.00,116.00L211.00,116.00L211.00,117.00L212.00,117.00L212.00,117.00L213.00,117.00L213.00,124.00L214.00,124.00L214.00,117.00L215.00,117.00L215.00,116.00L216.00,116.00L216.00,117.00L217.00,117.00L217.00,115.00L218.00,115.00L218.00,116.00L219.00,116.00L219.00,116.00L220.00,116.00L220.00,115.00L221.00,115.00L221.00,117.00L222.00,117.00L222.00,116.00L223.00,116.00L223.00,113.00L224.00,113.00L224.00,110.00L225.00,110.00L225.00,111.00L226.00,111.00L226.00,119.00L227.00,119.00L227.00,117.00L228.00,117.00L228.00,116.00L229.00,116.00L229.00,117.00L230.00,117.00L230.00,116.00L231.00,116.00L231.00,117.00L232.00,117.00L232.00,117.00L233.00,117.00L233.00,117.00L234.00,117.00L234.00,117.00L235.00,117.00L235.00,118.00L236.00,118.00L236.00,112.00L237.00,112.00L237.00,110.00L238.00,110.00L238.00,115.00L239.00,115.00L239.00,116.00L240.00,116.00L240.00,115.00L241.00,115.00L241.00,116.00L242.00,116.00L242.00,107.00L243.00,107.00L243.00,102.00L244.00,102.00L244.00,104.00L245.00,104.00L245.00,114.00L246.00,114.00L246.00,115.00L247.00,115.00L247.00,114.00L248.00,114.00L248.00,115.00L249.00,115.00L249.00,116.00L250.00,116.00L250.00,115.00L251.00,115.00L251.00,119.00L252.00,119.00L252.00,114.00L253.00,114.00L253.00,112.00L254.00,112.00L254.00,107.00L255.00,107.00L255.00,108.00L256.00,108.00L256.00,109.00L257.00,109.00L257.00,109.00L258.00,109.00L258.00,110.00L259.00,110.00L259.00,100.00L260.00,100.00L260.00,100.00L261.00,100.00L261.00,110.00L262.00,110.00L262.00,112.00L263.00,112.00L263.00,112.00L264.00,112.00L264.00,112.00L265.00,112.00L265.00,115.00L266.00,115.00L266.00,113.00L267.00,113.00L267.00,124.00L268.00,124.00L268.00,125.00L269.00,125.00L269.00,115.00L270.00,115.00L270.00,115.00L271.00,115.00L271.00,122.00L272.00,122.00L272.00,121.00L273.00,121.00L273.00,99.00L274.00,99.00L274.00,99.00L275.00,99.00L275.00,112.00L276.00,112.00L276.00,119.00L277.00,119.00L277.00,104.00L278.00,104.00L278.00,111.00L279.00,111.00L279.00,118.00L280.00,118.00L280.00,89.00L281.00,89.00L281.00,89.00L282.00,89.00L282.00,96.00L283.00,96.00L283.00,96.00L284.00,96.00L284.00,96.00L285.00,96.00L285.00,104.00L286.00,104.00L286.00,108.00L287.00,108.00L287.00,105.00L288.00,105.00L288.00,105.00L289.00,105.00L289.00,109.00L290.00,109.00L290.00,94.00L291.00,94.00L291.00,94.00L292.00,94.00L292.00,109.00L293.00,109.00L293.00,101.00L294.00,101.00L294.00,101.00L295.00,101.00L295.00,112.00L296.00,112.00L296.00,112.00L297.00,112.00L297.00,111.00L298.00,111.00L298.00,112.00L299.00,112.00L299.00,112.00L300.00,112.00L300.00,62.00L301.00,62.00L301.00,62.00L302.00,62.00L302.00,107.00L303.00,107.00L303.00,107.00L304.00,107.00L304.00,108.00L305.00,108.00L305.00,120.00L306.00,120.00L306.00,90.00L307.00,90.00L307.00,95.00L308.00,95.00L308.00,95.00L309.00,95.00L309.00,98.00L310.00,98.00L310.00,98.00L311.00,98.00L311.00,100.00L312.00,100.00L312.00,112.00L313.00,112.00L313.00,83.00L314.00,83.00L314.00,83.00L315.00,83.00L315.00,113.00L316.00,113.00L316.00,113.00L317.00,113.00L317.00,91.00L318.00,91.00L318.00,91.00L319.00,91.00L319.00,98.00L320.00,98.00L320.00,110.00L321.00,110.00L321.00,112.00L322.00,112.00L322.00,100.00L323.00,100.00L323.00,100.00L324.00,100.00L324.00,110.00L325.00,110.00L325.00,113.00L326.00,113.00L326.00,114.00L327.00,114.00L327.00,106.00L328.00,106.00L328.00,101.00L329.00,101.00L329.00,103.00L330.00,103.00L330.00,98.00L331.00,98.00L331.00,92.00L332.00,92.00L332.00,92.00L333.00,92.00L333.00,104.00L334.00,104.00L334.00,105.00L335.00,105.00L335.00,104.00L336.00,104.00L336.00,114.00L337.00,114.00L337.00,115.00L338.00,115.00L338.00,101.00L339.00,101.00L339.00,101.00L340.00,101.00L340.00,100.00L341.00,100.00L341.00,98.00L342.00,98.00L342.00,106.00L343.00,106.00L343.00,98.00L344.00,98.00L344.00,107.00L345.00,107.00L345.00,114.00L346.00,114.00L346.00,114.00L347.00,114.00L347.00,115.00L348.00,115.00L348.00,116.00L349.00,116.00L349.00,118.00L350.00,118.00L350.00,119.00L351.00,119.00L351.00,116.00L352.00,116.00L352.00,114.00L353.00,114.00L353.00,116.00L354.00,116.00L354.00,117.00L355.00,117.00L355.00,103.00L356.00,103.00L356.00,104.00L357.00,104.00L357.00,116.00L358.00,116.00L358.00,106.00L359.00,106.00L359.00,119.00L360.00,119.00L360.00,114.00L361.00,114.00L361.00,114.00L362.00,114.00L362.00,108.00L363.00,108.00L363.00,108.00L364.00,108.00L364.00,124.00L365.00,124.00L365.00,126.00L366.00,126.00L366.00,126.00L367.00,126.00L367.00,97.00L368.00,97.00L368.00,97.00L369.00,97.00L369.00,115.00L370.00,115.00L370.00,99.00L371.00,99.00L371.00,99.00L372.00,99.00L372.00,120.00L373.00,120.00L373.00,104.00L374.00,104.00L374.00,106.00L375.00,106.00L375.00,113.00L376.00,113.00L376.00,113.00L377.00,113.00L377.00,89.00L378.00,89.00L378.00,89.00L379.00,89.00L379.00,100.00L380.00,100.00L380.00,109.00L381.00,109.00L381.00,111.00L382.00,111.00L382.00,95.00L383.00,95.00L383.00,95.00L384.00,95.00L384.00,120.00L385.00,120.00L385.00,115.00L386.00,115.00L386.00,102.00L387.00,102.00L387.00,102.00L388.00,102.00L388.00,112.00L389.00,112.00L389.00,115.00L390.00,115.00L390.00,119.00L391.00,119.00L391.00,115.00L392.00,115.00L392.00,112.00L393.00,112.00L393.00,101.00L394.00,101.00L394.00,100.00L395.00,100.00L395.00,100.00L396.00,100.00L396.00,91.00L397.00,91.00L397.00,91.00L398.00,91.00L398.00,94.00L399.00,94.00L399.00,94.00L400.00,94.00L400.00,122.00L401.00,122.00L401.00,75.00L402.00,75.00L402.00,75.00L403.00,75.00L403.00,78.00L404.00,78.00L404.00,78.00L405.00,78.00L405.00,81.00L406.00,81.00L406.00,101.00L407.00,101.00L407.00,101.00L408.00,101.00L408.00,98.00L409.00,98.00L409.00,122.00L410.00,122.00L410.00,104.00L411.00,104.00L411.00,99.00L412.00,99.00L412.00,99.00L413.00,99.00L413.00,92.00L414.00,92.00L414.00,81.00L415.00,81.00L415.00,80.00L416.00,80.00L416.00,83.00L417.00,83.00L417.00,93.00L418.00,93.00L418.00,95.00L419.00,95.00L419.00,99.00L420.00,99.00L420.00,99.00L420.60,99.00L420.60,46.00L421.40,46.00L421.40,46.00L422.20,46.00L422.20,46.00L423.00,46.00L423.00,87.00L424.00,87.00L424.00,88.00L425.00,88.00L425.00,124.00L426.00,124.00L426.00,98.00L427.00,98.00L427.00,98.00L428.00,98.00L428.00,99.00L429.00,99.00L429.00,99.00L430.00,99.00L430.00,100.00L431.00,100.00L431.00,97.00L432.00,97.00L432.00,95.00L433.00,95.00L433.00,110.00L434.00,110.00L434.00,105.00L435.00,105.00L435.00,105.00L436.00,105.00L436.00,105.00L437.00,105.00L437.00,100.00L438.00,100.00L438.00,100.00L439.00,100.00L439.00,110.00L440.00,110.00L440.00,111.00L441.00,111.00L441.00,119.00L442.00,119.00L442.00,118.00L443.00,118.00L443.00,116.00L444.00,116.00L444.00,111.00L445.00,111.00L445.00,111.00L446.00,111.00L446.00,111.00L447.00,111.00L447.00,111.00L448.00,111.00L448.00,78.00L449.00,78.00L449.00,78.00L450.00,78.00L450.00,116.00L451.00,116.00L451.00,96.00L452.00,96.00L452.00,96.00L453.00,96.00L453.00,99.00L454.00,99.00L454.00,108.00L455.00,108.00L455.00,110.00L456.00,110.00L456.00,115.00L457.00,115.00L457.00,115.00L458.00,115.00L458.00,118.00L459.00,118.00L459.00,122.00L460.00,122.00L460.00,108.00L461.00,108.00L461.00,106.00L462.00,106.00L462.00,105.00L463.00,105.00L463.00,106.00L464.00,106.00L464.00,103.00L465.00,103.00L465.00,96.00L466.00,96.00L466.00,96.00L467.00,96.00L467.00,98.00L468.00,98.00L468.00,100.00L469.00,100.00L469.00,100.00L470.00,100.00L470.00,111.00L471.00,111.00L471.00,113.00L472.00,113.00L472.00,113.00L473.00,113.00L473.00,114.00L474.00,114.00L474.00,115.00L475.00,115.00L475.00,117.00L476.00,117.00L476.00,118.00L477.00,118.00L477.00,119.00L478.00,119.00L478.00,120.00L479.00,120.00L479.00,120.00L480.00,120.00L480.00,121.00L481.00,121.00L481.00,122.00L482.00,122.00L482.00,119.00L483.00,119.00L483.00,113.00L484.00,113.00L484.00,114.00L485.00,114.00L485.00,120.00L486.00,120.00L486.00,122.00L487.00,122.00L487.00,108.00L488.00,108.00L488.00,107.00L489.00,107.00L489.00,107.00L490.00,107.00L490.00,115.00L491.00,115.00L491.00,113.00L492.00,113.00L492.00,103.00L493.00,103.00L493.00,105.00L494.00,105.00L494.00,106.00L495.00,106.00L495.00,114.00L496.00,114.00L496.00,116.00L497.00,116.00L497.00,115.00L498.00,115.00L498.00,114.00L499.00,114.00L499.00,123.00L500.00,123.00L500.00,112.00L501.00,112.00L501.00,112.00L502.00,112.00L502.00,110.00L503.00,110.00L503.00,113.00L504.00,113.00L504.00,114.00L505.00,114.00L505.00,114.00L506.00,114.00L506.00,115.00L507.00,115.00L507.00,121.00L508.00,121.00L508.00,111.00L509.00,111.00L509.00,111.00L510.00,111.00L510.00,115.00L511.00,115.00L511.00,116.00L512.00,116.00L512.00,117.00L513.00,117.00L513.00,119.00L514.00,119.00L514.00,119.00L515.00,119.00L515.00,109.00L516.00,109.00L516.00,108.00L517.00,108.00L517.00,120.00L518.00,120.00L518.00,120.00L519.00,120.00L519.00,104.00L520.00,104.00L520.00,104.00L521.00,104.00L521.00,126.00L522.00,126.00L522.00,126.00L523.00,126.00L523.00,122.00L524.00,122.00L524.00,121.00L525.00,121.00L525.00,121.00L526.00,121.00L526.00,120.00L527.00,120.00L527.00,122.00L528.00,122.00L528.00,120.00L529.00,120.00L529.00,122.00L530.00,122.00L530.00,122.00L531.00,122.00L531.00,117.00L532.00,117.00L532.00,116.00L533.00,116.00L533.00,112.00L534.00,112.00L534.00,107.00L535.00,107.00L535.00,102.00L536.00,102.00L536.00,101.00L537.00,101.00L537.00,99.00L538.00,99.00L538.00,108.00L539.00,108.00L539.00,112.00L540.00,112.00L540.00,104.00L541.00,104.00L541.00,107.00L542.00,107.00L542.00,114.00L543.00,114.00L543.00,115.00L544.00,115.00L544.00,117.00L545.00,117.00L545.00,117.00L546.00,117.00L546.00,120.00L547.00,120.00L547.00,119.00L548.00,119.00L548.00,114.00L549.00,114.00L549.00,109.00L550.00,109.00L550.00,109.00L551.00,109.00L551.00,111.00L552.00,111.00L552.00,121.00L553.00,121.00L553.00,119.00L554.00,119.00L554.00,122.00L555.00,122.00L555.00,122.00L556.00,122.00L556.00,113.00L557.00,113.00L557.00,114.00L558.00,114.00L558.00,108.00L559.00,108.00L559.00,113.00L560.00,113.00L560.00,115.00L561.00,115.00L561.00,113.00L562.00,113.00L562.00,112.00L563.00,112.00L563.00,112.00L564.00,112.00L564.00,117.00L565.00,117.00L565.00,117.00L566.00,117.00L566.00,110.00L567.00,110.00L567.00,117.00L568.00,117.00L568.00,121.00L569.00,121.00L569.00,120.00L570.00,120.00L570.00,118.00L571.00,118.00L571.00,118.00L572.00,118.00L572.00,117.00L573.00,117.00L573.00,120.00L574.00,120.00L574.00,118.00L575.00,118.00L575.00,119.00L576.00,119.00L576.00,116.00L577.00,116.00L577.00,113.00L578.00,113.00L578.00,109.00L579.00,109.00L579.00,112.00L580.00,112.00L580.00,119.00L581.00,119.00L581.00,120.00L582.00,120.00L582.00,124.00L583.00,124.00L583.00,121.00L584.00,121.00L584.00,117.00L585.00,117.00L585.00,117.00L586.00,117.00L586.00,118.00L587.00,118.00L587.00,117.00L588.00,117.00L588.00,105.00L589.00,105.00L589.00,105.00L590.00,105.00L590.00,110.00L591.00,110.00L591.00,114.00L592.00,114.00L592.00,118.00L593.00,118.00L593.00,121.00L594.00,121.00L594.00,123.00L595.00,123.00L595.00,124.00L596.00,124.00L596.00,121.00L597.00,121.00L597.00,118.00L598.00,118.00L598.00,115.00L599.00,115.00L599.00,117.00L600.00,117.00L600.00,114.00L601.00,114.00L601.00,114.00L602.00,114.00L602.00,120.00L603.00,120.00L603.00,111.00L604.00,111.00L604.00,109.00L605.00,109.00L605.00,102.00L606.00,102.00L606.00,103.00L607.00,103.00L607.00,106.00L608.00,106.00L608.00,108.00L609.00,108.00L609.00,110.00L610.00,110.00L610.00,123.00L611.00,123.00L611.00,113.00L612.00,113.00L612.00,112.00L613.00,112.00L613.00,110.00L614.00,110.00L614.00,118.00L615.00,118.00L615.00,119.00L616.00,119.00L616.00,116.00L617.00,116.00L617.00,120.00L618.00,120.00L618.00,116.00L619.00,116.00L619.00,122.00L620.00,122.00L620.00,108.00L621.00,108.00L621.00,108.00L622.00,108.00L622.00,93.00L623.00,93.00L623.00,93.00L624.00,93.00L624.00,93.00L625.00,93.00L625.00,110.00L626.00,110.00L626.00,117.00L627.00,117.00L627.00,104.00L628.00,104.00L628.00,104.00L629.00,104.00L629.00,117.00L630.00,117.00L630.00,118.00L631.00,118.00L631.00,104.00L632.00,104.00L632.00,104.00L633.00,104.00L633.00,103.00L634.00,103.00L634.00,103.00L635.00,103.00L635.00,102.00L636.00,102.00L636.00,103.00L637.00,103.00L637.00,102.00L638.00,102.00L638.00,110.00L639.00,110.00L639.00,100.00L640.00,100.00L640.00,99.00L641.00,99.00L641.00,100.00L642.00,100.00L642.00,106.00L643.00,106.00L643.00,83.00L644.00,83.00L644.00,83.00L645.00,83.00L645.00,113.00L646.00,113.00L646.00,116.00L647.00,116.00L647.00,115.00L648.00,115.00L648.00,95.00L649.00,95.00L649.00,96.00L650.00,96.00L650.00,104.00L651.00,104.00L651.00,105.00L652.00,105.00L652.00,113.00L653.00,113.00L653.00,112.00L654.00,112.00L654.00,114.00L655.00,114.00L655.00,114.00L656.00,114.00L656.00,114.00L657.00,114.00L657.00,113.00L657.80,113.00L657.80,113.00L658.00,113.00L658.00,127.00Z" fill="#9a6faa"/>
<path d="M85.80,266.00L85.80,265.80L86.00,257.00L87.00,251.00L88.00,248.00L89.00,247.00L90.00,248.00L91.00,249.00L92.00,242.00L93.00,240.00L94.00,242.00L95.00,240.00L96.00,242.00L97.00,247.00L98.00,239.00L99.00,240.00L100.00,238.00L101.00,237.00L102.00,238.00L103.00,241.00L104.00,246.00L105.00,251.00L106.00,250.00L107.00,251.00L108.00,253.00L109.00,256.00L110.00,253.00L111.00,252.00L112.00,251.00L113.00,251.00L114.00,252.00L115.00,258.00L116.00,253.00L117.00,250.00L118.00,249.00L119.00,249.00L120.00,250.00L121.00,254.00L122.00,232.00L123.00,228.00L124.00,225.00L125.00,223.00L126.00,227.00L127.00,234.00L128.00,246.00L129.00,254.00L130.00,249.00L131.00,247.00L132.00,247.00L133.00,250.00L134.00,225.00L135.00,214.00L136.00,206.00L137.00,202.00L138.00,208.00L139.00,209.00L140.00,223.00L141.00,237.00L142.00,236.00L143.00,238.00L144.00,240.00L145.00,246.00L146.00,251.00L147.00,255.00L148.00,249.00L149.00,248.00L150.00,249.00L151.00,253.00L152.00,250.00L153.00,247.00L154.00,244.00L155.00,243.00L156.00,245.00L157.00,250.00L158.00,257.00L159.00,248.00L160.00,248.00L161.00,250.00L162.00,248.00L163.00,250.00L164.00,225.00L165.00,209.00L166.00,197.00L167.00,195.00L168.00,205.00L169.00,193.00L170.00,187.00L171.00,216.00L172.00,222.00L173.00,221.00L174.00,225.00L175.00,238.00L176.00,238.00L177.00,237.00L178.00,237.00L179.00,240.00L180.00,246.00L181.00,246.00L182.00,248.00L183.00,246.00L184.00,249.00L185.00,251.00L186.00,254.00L187.00,255.00L188.00,234.00L189.00,231.00L190.00,232.00L191.00,233.00L192.00,236.00L193.00,240.00L194.00,239.00L195.00,238.00L196.00,240.00L197.00,240.00L198.00,242.00L199.00,248.00L200.00,249.00L201.00,247.00L202.00,248.00L203.00,249.00L204.00,255.00L205.00,220.00L206.00,210.00L207.00,205.00L208.00,210.00L209.00,214.00L210.00,228.00L211.00,254.00L212.00,244.00L213.00,243.00L214.00,244.00L215.00,246.00L216.00,226.00L217.00,228.00L218.00,246.00L219.00,244.00L220.00,246.00L221.00,251.00L222.00,237.00L223.00,234.00L224.00,235.00L225.00,237.00L226.00,238.00L227.00,246.00L228.00,247.00L229.00,246.00L230.00,247.00L231.00,250.00L232.00,256.00L233.00,248.00L234.00,243.00L235.00,241.00L236.00,240.00L237.00,242.00L238.00,244.00L239.00,233.00L240.00,232.00L241.00,233.00L242.00,238.00L243.00,240.00L244.00,245.00L245.00,246.00L246.00,249.00L247.00,248.00L248.00,248.00L249.00,251.00L250.00,253.00L251.00,255.00L252.00,250.00L253.00,244.00L254.00,242.00L255.00,243.00L256.00,243.00L257.00,244.00L258.00,243.00L259.00,244.00L260.00,245.00L261.00,249.00L262.00,251.00L263.00,249.00L264.00,230.00L265.00,220.00L266.00,218.00L267.00,221.00L268.00,216.00L269.00,209.00L270.00,220.00L271.00,222.00L272.00,225.00L273.00,229.00L274.00,239.00L275.00,240.00L276.00,231.00L277.00,231.00L278.00,232.00L279.00,231.00L280.00,238.00L281.00,239.00L282.00,240.00L283.00,241.00L284.00,246.00L285.00,240.00L286.00,233.00L287.00,233.00L288.00,236.00L289.00,237.00L290.00,234.00L291.00,240.00L292.00,225.00L293.00,223.00L294.00,226.00L295.00,224.00L296.00,228.00L297.00,238.00L298.00,234.00L299.00,215.00L300.00,211.00L301.00,212.00L302.00,215.00L303.00,213.00L304.00,223.00L305.00,222.00L306.00,220.00L307.00,223.00L308.00,224.00L309.00,208.00L310.00,215.00L311.00,229.00L312.00,230.00L313.00,232.00L314.00,243.00L315.00,246.00L316.00,242.00L317.00,244.00L318.00,242.00L319.00,248.00L320.00,228.00L321.00,231.00L322.00,240.00L323.00,236.00L324.00,238.00L325.00,246.00L326.00,236.00L327.00,231.00L328.00,233.00L329.00,236.00L330.00,229.00L331.00,234.00L332.00,240.00L333.00,236.00L334.00,237.00L335.00,240.00L336.00,247.00L336.20,247.00L336.50,200.00L337.20,175.00L337.80,160.00L338.60,150.00L339.30,145.50L340.00,146.00L340.80,155.00L341.30,170.00L342.00,185.00L342.90,200.00L343.20,240.00L344.00,231.00L345.00,230.00L346.00,228.00L347.00,234.00L348.00,227.00L349.00,231.00L350.00,230.00L351.00,238.00L352.00,232.00L353.00,236.00L354.00,251.00L355.00,248.00L356.00,246.00L357.00,246.00L358.00,250.00L359.00,253.00L360.00,240.00L361.00,239.00L362.00,238.00L363.00,240.00L364.00,240.00L365.00,247.00L366.00,254.00L367.00,241.00L368.00,239.00L369.00,239.00L370.00,241.00L371.00,246.00L372.00,252.00L373.00,248.00L374.00,246.00L375.00,246.00L376.00,248.00L377.00,253.00L378.00,246.00L379.00,236.00L380.00,233.00L381.00,234.00L382.00,235.00L383.00,244.00L384.00,235.00L385.00,233.00L386.00,236.00L387.00,235.00L388.00,237.00L389.00,241.00L390.00,246.00L391.00,250.00L392.00,238.00L393.00,231.00L394.00,229.00L395.00,230.00L396.00,228.00L397.00,234.00L398.00,231.00L399.00,230.00L400.00,230.00L401.00,234.00L402.00,238.00L403.00,244.00L404.00,246.00L405.00,245.00L406.00,246.00L407.00,249.00L408.00,250.00L409.00,236.00L410.00,220.00L411.00,212.00L412.00,207.00L413.00,210.00L414.00,206.00L415.00,212.00L416.00,234.00L417.00,217.00L418.00,216.00L419.00,219.00L420.00,227.00L421.00,236.00L422.00,249.00L423.00,240.00L424.00,241.00L425.00,244.00L426.00,243.00L427.00,246.00L428.00,249.00L429.00,248.00L430.00,250.00L431.00,252.00L432.00,255.00L433.00,239.00L434.00,237.00L435.00,235.00L436.00,238.00L437.00,233.00L438.00,232.00L439.00,236.00L440.00,237.00L441.00,235.00L442.00,239.00L443.00,242.00L444.00,233.00L445.00,231.00L446.00,229.00L447.00,231.00L448.00,233.00L449.00,233.00L450.00,240.00L451.00,239.00L452.00,240.00L453.00,239.00L454.00,240.00L455.00,242.00L456.00,252.00L457.00,261.00L458.00,261.00L459.00,260.00L460.00,261.00L461.00,262.00L462.00,262.00L463.00,256.00L464.00,249.00L465.00,247.00L466.00,246.00L467.00,248.00L468.00,244.00L469.00,245.00L470.00,247.00L471.00,247.00L472.00,248.00L473.00,251.00L474.00,252.00L475.00,254.00L476.00,253.00L477.00,254.00L478.00,254.00L479.00,256.00L480.00,256.00L481.00,232.00L482.00,228.00L483.00,229.00L484.00,233.00L485.00,233.00L486.00,234.00L487.00,230.00L488.00,232.00L489.00,233.00L490.00,235.00L491.00,240.00L492.00,246.00L493.00,252.00L494.00,252.00L495.00,253.00L496.00,252.00L497.00,254.00L498.00,256.00L499.00,255.00L500.00,254.00L501.00,255.00L502.00,256.00L503.00,247.00L504.00,244.00L505.00,243.00L506.00,245.00L507.00,247.00L508.00,252.00L509.00,255.00L510.00,257.00L511.00,255.00L512.00,254.00L513.00,255.00L514.00,258.00L515.00,260.00L516.00,264.00L517.00,264.00L518.00,264.00L519.00,264.00L520.00,257.00L521.00,254.00L522.00,253.00L523.00,254.00L524.00,254.00L525.00,253.00L526.00,245.00L527.00,246.00L528.00,247.00L529.00,246.00L530.00,248.00L531.00,254.00L532.00,244.00L533.00,241.00L534.00,240.00L535.00,240.00L536.00,241.00L537.00,246.00L538.00,246.00L539.00,240.00L540.00,238.00L541.00,238.00L542.00,240.00L543.00,244.00L544.00,257.00L545.00,255.00L546.00,253.00L547.00,254.00L548.00,256.00L549.00,257.00L550.00,254.00L551.00,250.00L552.00,248.00L553.00,248.00L554.00,249.00L555.00,251.00L556.00,246.00L557.00,248.00L558.00,252.00L559.00,248.00L560.00,247.00L561.00,245.00L562.00,248.00L563.00,244.00L564.00,246.00L565.00,248.00L566.00,250.00L567.00,252.00L568.00,241.00L569.00,239.00L570.00,238.00L571.00,240.00L572.00,242.00L573.00,239.00L574.00,238.00L575.00,244.00L576.00,244.00L577.00,244.00L578.00,247.00L579.00,251.00L580.00,230.00L581.00,226.00L582.00,224.00L583.00,229.00L584.00,236.00L585.00,248.00L586.00,249.00L587.00,240.00L588.00,240.00L589.00,239.00L590.00,238.00L591.00,240.00L592.00,250.00L593.00,249.00L594.00,249.00L595.00,248.00L596.00,249.00L597.00,246.00L598.00,240.00L599.00,238.00L600.00,237.00L601.00,238.00L602.00,240.00L603.00,242.00L604.00,234.00L605.00,226.00L606.00,222.00L607.00,222.00L608.00,226.00L609.00,238.00L610.00,240.00L611.00,234.00L612.00,233.00L613.00,235.00L614.00,240.00L615.00,249.00L616.00,256.00L617.00,255.00L618.00,256.00L619.00,257.00L620.00,258.00L621.00,259.00L622.00,255.00L623.00,251.00L624.00,250.00L625.00,249.00L626.00,253.00L627.00,251.00L628.00,244.00L629.00,241.00L630.00,241.00L631.00,243.00L632.00,242.00L633.00,246.00L634.00,234.00L635.00,231.00L636.00,233.00L637.00,237.00L638.00,240.00L639.00,246.00L640.00,250.00L641.00,248.00L642.00,249.00L643.00,250.00L644.00,251.00L645.00,252.00L646.00,242.00L647.00,239.00L648.00,240.00L649.00,242.00L650.00,249.00L651.00,251.00L652.00,250.00L653.00,249.00L654.00,240.00L655.00,232.00L656.00,231.00L657.00,235.00L658.00,244.00L659.00,254.00L660.00,258.00L660.60,262.00L661.20,265.80L661.20,266.00Z" fill="#f5b75b"/>
<path d="M85.72,405.00L85.72,404.18L86.00,378.71L86.86,374.42L88.01,368.70L89.15,371.56L90.01,367.27L91.15,375.85L92.01,371.56L93.16,365.84L94.01,358.68L94.87,354.39L96.02,342.95L97.16,332.93L98.02,337.22L98.88,338.66L99.74,348.67L100.60,360.11L101.74,358.68L102.88,365.84L104.03,380.14L105.17,381.57L106.03,390.16L106.89,387.30L108.03,380.14L109.18,374.42L110.32,368.70L111.18,371.56L112.04,377.28L113.18,385.87L114.33,390.16L115.47,390.16L116.33,388.73L117.19,387.30L118.33,383.00L119.48,374.42L120.62,365.84L121.48,362.98L122.63,365.84L123.48,377.28L124.34,385.87L125.49,384.43L126.92,381.57L128.35,375.85L129.78,364.41L131.21,355.82L132.07,360.11L133.21,377.28L134.36,385.87L135.50,374.42L136.65,371.56L137.79,378.71L138.94,377.28L140.08,374.42L141.22,370.13L142.37,383.00L143.51,385.87L144.66,388.73L145.80,387.30L146.95,385.87L148.09,378.71L149.24,362.98L150.38,351.53L151.53,341.52L152.67,351.53L153.81,365.84L154.96,374.42L156.10,381.57L157.25,390.16L158.39,393.02L159.54,390.16L160.68,385.87L161.83,377.28L162.97,365.84L164.11,354.39L165.26,347.24L166.40,341.52L167.55,340.09L168.69,357.25L169.84,374.42L170.98,368.70L172.13,374.42L173.27,387.30L174.41,387.30L175.56,377.28L176.70,375.85L177.85,377.28L178.99,374.42L180.14,370.13L181.28,367.27L182.43,364.41L183.57,360.11L184.72,358.68L185.86,368.70L187.00,377.28L188.15,381.57L189.29,365.84L190.44,355.82L191.58,348.67L192.73,341.52L193.87,348.67L195.02,360.11L196.16,365.84L197.30,381.57L198.45,354.39L199.59,338.66L200.45,332.93L201.31,348.67L202.45,380.14L203.60,371.56L204.74,357.25L205.89,341.52L207.03,335.79L208.18,357.25L209.32,377.28L210.47,378.71L211.61,390.16L212.76,393.02L213.90,393.02L215.04,395.88L216.19,397.31L217.33,400.17L218.48,401.60L219.62,400.17L220.77,395.88L221.91,393.02L223.06,390.16L224.20,387.30L225.34,380.14L226.49,375.85L227.63,374.42L228.78,384.43L229.92,388.73L231.07,387.30L232.21,390.16L233.36,388.73L234.50,388.73L235.65,387.30L236.79,385.87L237.93,383.00L239.08,387.30L240.22,378.71L241.37,367.27L242.51,355.82L243.66,341.52L244.23,338.66L245.37,355.82L246.52,372.99L247.66,383.00L248.81,380.14L249.95,374.42L251.10,368.70L252.24,362.98L253.38,371.56L254.53,377.28L255.67,383.00L256.82,381.57L257.96,378.71L259.11,374.42L260.25,370.13L261.40,372.99L262.54,383.00L263.69,388.73L264.83,393.02L265.97,394.45L267.12,395.88L268.26,394.45L269.41,395.88L270.55,393.02L271.70,387.30L272.84,380.14L273.99,374.42L275.13,367.27L276.27,362.98L277.42,358.68L278.56,355.82L279.43,377.28L280.58,368.70L281.72,357.25L282.87,345.81L284.01,334.36L285.16,325.78L286.30,311.47L287.44,331.50L288.59,332.93L289.73,348.67L290.88,365.84L292.02,364.41L293.17,365.84L294.31,377.28L295.46,365.84L296.60,371.56L297.75,380.14L298.89,387.30L300.03,383.00L301.18,374.42L302.32,365.84L303.47,351.53L304.61,347.24L305.76,365.84L306.90,377.28L308.05,385.87L309.19,377.28L310.33,365.84L311.48,362.98L312.62,360.11L313.77,351.53L314.91,337.22L316.06,322.92L317.20,317.20L318.35,342.95L319.49,354.39L320.64,308.61L321.78,288.58L322.92,322.92L324.07,345.81L325.21,340.09L326.36,348.67L327.50,355.82L328.65,337.22L329.79,322.92L330.94,308.61L332.08,331.50L333.22,365.84L334.37,371.56L335.51,348.67L336.66,337.22L337.80,331.50L338.95,351.53L340.09,368.70L341.24,360.11L342.38,351.53L343.53,325.78L344.67,311.47L345.81,320.06L346.96,388.73L348.10,362.98L349.25,348.67L350.39,342.95L351.54,335.79L352.68,348.67L353.83,357.25L354.97,374.42L356.11,337.22L357.26,314.33L358.40,302.89L359.55,334.36L360.69,362.98L361.84,381.57L362.98,374.42L364.13,368.70L365.27,371.56L366.41,362.98L367.56,357.25L368.70,368.70L369.85,371.56L370.99,368.70L372.14,374.42L373.28,378.71L374.43,374.42L375.57,362.98L376.72,360.11L377.86,380.14L379.00,374.42L380.15,365.84L381.29,362.98L382.44,357.25L383.58,352.96L384.73,357.25L385.87,365.84L387.02,368.70L388.16,362.98L389.30,348.67L390.45,328.64L391.59,327.21L392.74,362.98L393.88,374.42L395.03,357.25L396.17,365.84L397.32,360.11L398.46,368.70L399.61,360.11L400.75,345.81L401.89,325.78L403.04,305.75L404.18,288.58L405.33,285.72L406.47,351.53L407.62,350.10L408.76,362.98L409.91,357.25L411.05,361.55L412.19,355.82L413.34,365.84L414.48,374.42L415.63,380.14L416.77,368.70L417.92,322.92L419.06,300.03L420.21,322.92L421.35,325.78L422.49,360.11L423.64,351.53L424.78,340.09L425.93,325.78L427.07,312.90L428.22,308.61L429.36,360.11L430.51,331.50L431.65,345.81L432.80,302.89L433.94,320.06L435.08,348.67L436.23,354.39L437.37,362.98L438.52,368.70L439.66,362.98L440.81,351.53L441.95,348.67L443.10,354.39L444.24,365.84L445.38,370.13L446.53,374.42L447.67,377.28L448.82,371.56L449.96,368.70L451.11,367.27L452.25,368.70L453.40,370.13L454.54,385.87L455.69,390.16L456.83,383.00L457.97,380.14L459.12,377.28L460.26,368.70L461.41,351.53L462.55,330.07L463.70,330.07L464.84,345.81L465.99,334.36L467.13,332.93L468.27,351.53L469.42,345.81L470.56,337.22L471.14,331.50L472.29,325.78L473.43,318.63L474.58,345.81L475.72,371.56L476.87,381.57L478.01,368.70L479.16,367.27L480.30,390.16L481.44,383.00L482.59,378.71L483.73,380.14L484.88,377.28L486.02,381.57L487.17,391.59L488.31,388.73L489.46,381.57L490.60,374.42L491.75,371.56L492.89,362.98L494.03,357.25L495.18,365.84L496.32,364.41L497.47,377.28L498.61,384.43L499.76,354.39L500.90,325.78L502.05,308.61L503.19,365.84L504.33,394.45L505.48,390.16L506.62,387.30L507.77,388.73L508.91,385.87L510.06,377.28L511.20,371.56L512.35,390.16L513.49,377.28L514.64,365.84L515.78,362.98L516.92,390.16L518.07,387.30L519.21,377.28L520.36,375.85L521.50,380.14L522.65,380.14L523.79,371.56L524.94,368.70L526.08,365.84L527.22,354.39L528.37,340.09L529.51,351.53L530.66,350.10L531.80,383.00L532.95,368.70L534.09,362.98L535.24,361.55L536.38,365.84L537.53,357.25L538.67,340.09L539.81,332.93L540.96,348.67L542.10,374.42L543.25,383.00L544.39,372.99L545.54,371.56L546.68,374.42L547.83,370.13L548.97,371.56L550.11,383.00L551.26,387.30L552.40,385.87L553.55,387.30L554.69,388.73L555.84,387.30L556.98,388.73L558.13,383.00L559.27,377.28L560.41,380.14L561.56,383.00L562.70,380.14L563.85,374.42L564.99,365.84L566.14,362.98L567.28,361.55L568.43,368.70L569.57,371.56L570.72,370.13L571.86,374.42L573.00,371.56L574.15,375.85L575.29,378.71L576.44,385.87L577.58,393.02L578.73,394.45L579.87,393.02L581.02,393.02L582.16,391.59L583.30,390.16L584.45,388.73L585.59,387.30L586.74,385.87L587.88,378.71L589.03,374.42L590.17,365.84L591.32,361.55L592.46,365.84L593.61,368.70L594.75,367.27L595.89,374.42L597.04,383.00L598.18,377.28L599.33,365.84L600.47,348.67L601.62,337.22L602.76,328.64L603.91,315.77L605.05,340.09L606.19,357.25L607.34,383.00L608.48,380.14L609.63,377.28L610.77,372.99L611.92,368.70L613.06,365.84L614.21,362.98L615.35,362.98L616.49,388.73L617.64,393.02L618.78,391.59L619.93,385.87L621.07,377.28L622.22,365.84L623.36,355.82L624.51,348.67L625.65,344.38L626.80,334.36L627.94,328.64L629.08,337.22L630.23,317.20L631.37,291.44L632.52,300.03L633.66,322.92L634.81,354.39L635.95,345.81L637.10,337.22L638.24,328.64L639.38,342.95L640.53,362.98L641.67,364.41L642.82,354.39L643.96,348.67L645.11,337.22L646.25,334.36L647.40,348.67L648.54,351.53L649.69,337.22L650.83,321.49L651.97,331.50L653.12,340.09L654.26,331.50L655.41,328.64L656.55,302.89L657.70,284.29L658.84,314.33L659.99,362.98L661.13,394.45L661.70,404.18L661.70,405.00Z" fill="#8cc4ea"/>
<path d="M61.75,1.15H685.75M62.25,0.6499999999999999V132.37M685.25,0.6499999999999999V132.37" fill="none" stroke="#111" stroke-width="1"/>
<path d="M61.75,131.87H685.75" fill="none" stroke="#111" stroke-width="1.0"/>
<path d="M61.75,140.22H685.75M62.25,139.72V271.37M685.25,139.72V271.37" fill="none" stroke="#111" stroke-width="1"/>
<path d="M61.75,270.87H685.75" fill="none" stroke="#111" stroke-width="1.0"/>
<path d="M61.75,279.3H685.75M62.25,278.8V410.37M685.25,278.8V410.37" fill="none" stroke="#111" stroke-width="1"/>
<path d="M61.75,409.87H685.75" fill="none" stroke="#111" stroke-width="1.15"/>
<line x1="85.50" y1="409.87" x2="85.50" y2="415.1" stroke="#1a1a1a" stroke-width="1"/>
<text transform="translate(85.50,425.7) scale(0.945,1)" text-anchor="middle" font-size="9.3" fill="#1e1e1e">0</text>
<line x1="181.92" y1="409.87" x2="181.92" y2="415.1" stroke="#1a1a1a" stroke-width="1"/>
<text transform="translate(181.92,425.7) scale(0.945,1)" text-anchor="middle" font-size="9.3" fill="#1e1e1e">5000</text>
<line x1="278.33" y1="409.87" x2="278.33" y2="415.1" stroke="#1a1a1a" stroke-width="1"/>
<text transform="translate(278.33,425.7) scale(0.945,1)" text-anchor="middle" font-size="9.3" fill="#1e1e1e">10000</text>
<line x1="374.75" y1="409.87" x2="374.75" y2="415.1" stroke="#1a1a1a" stroke-width="1"/>
<text transform="translate(374.75,425.7) scale(0.945,1)" text-anchor="middle" font-size="9.3" fill="#1e1e1e">15000</text>
<line x1="471.17" y1="409.87" x2="471.17" y2="415.1" stroke="#1a1a1a" stroke-width="1"/>
<text transform="translate(471.17,425.7) scale(0.945,1)" text-anchor="middle" font-size="9.3" fill="#1e1e1e">20000</text>
<line x1="567.58" y1="409.87" x2="567.58" y2="415.1" stroke="#1a1a1a" stroke-width="1"/>
<text transform="translate(567.58,425.7) scale(0.945,1)" text-anchor="middle" font-size="9.3" fill="#1e1e1e">25000</text>
<line x1="664.00" y1="409.87" x2="664.00" y2="415.1" stroke="#1a1a1a" stroke-width="1"/>
<text transform="translate(664.00,425.7) scale(0.945,1)" text-anchor="middle" font-size="9.3" fill="#1e1e1e">30000</text>
<text transform="translate(375,444.6) scale(0.945,1)" text-anchor="middle" font-size="9.3" fill="#1e1e1e">Position in viral genome [nt]</text>
</svg>
</body></html>
